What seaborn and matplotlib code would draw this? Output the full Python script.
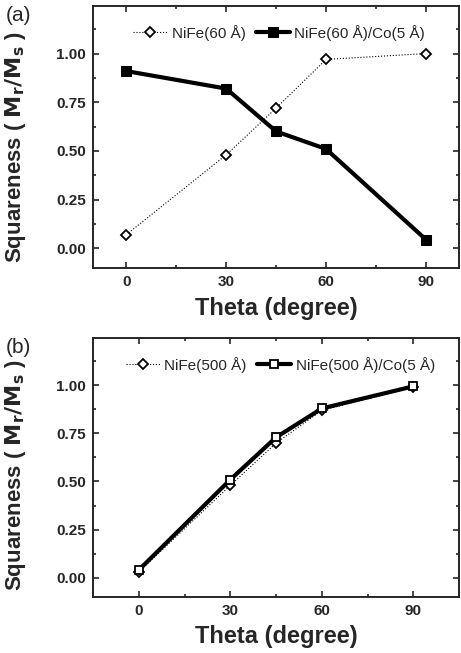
import numpy as np
import pandas as pd
import matplotlib
matplotlib.use("Agg")
import matplotlib.pyplot as plt
from matplotlib.ticker import MultipleLocator
import seaborn as sns

# Data
theta = [0, 30, 45, 60, 90]

# (a)
nife60 = [0.07, 0.48, 0.72, 0.97, 1.00]
nife60_co = [0.91, 0.82, 0.60, 0.51, 0.045]

# (b)
nife500 = [0.03, 0.48, 0.70, 0.87, 0.99]
nife500_co = [0.04, 0.51, 0.73, 0.88, 0.995]

labels_a = ["NiFe(60 Å)", "NiFe(60 Å)/Co(5 Å)"]
labels_b = ["NiFe(500 Å)", "NiFe(500 Å)/Co(5 Å)"]

sns.set_style("ticks")
plt.rcParams['font.family'] = ['Liberation Sans', 'DejaVu Sans']

fig = plt.figure(figsize=(4.61, 6.53), dpi=100)
ax_a = fig.add_axes([0.202, 0.590, 0.794, 0.401])
ax_b = fig.add_axes([0.202, 0.086, 0.794, 0.396])


def style_axes(ax, xlim, tag, ylab_y, leg_x, xlab_y):
    ax.set_xlim(*xlim)
    ax.set_ylim(-0.1, 1.245)
    ax.set_xticks([0, 30, 60, 90])
    ax.xaxis.set_minor_locator(MultipleLocator(15))
    ax.set_yticks([0, 0.25, 0.5, 0.75, 1.0])
    ax.set_yticklabels(["0.00", "0.25", "0.50", "0.75", "1.00"])
    ax.yaxis.set_minor_locator(MultipleLocator(0.125))
    ax.tick_params(which="both", direction="in", top=True, right=True, width=1.2)
    ax.tick_params(which="major", length=4)
    ax.tick_params(which="minor", length=2.5)
    ax.tick_params(axis="both", pad=5)
    for lab in ax.get_xticklabels() + ax.get_yticklabels():
        lab.set_fontweight("bold")
        lab.set_fontsize(11)
    for sp in ax.spines.values():
        sp.set_linewidth(1.4)
    ax.set_xlabel("Theta (degree)", fontsize=17, fontweight="bold")
    ax.set_ylabel(r"Squareness ( $\mathbf{M_r/M_s}$ )", fontsize=16, fontweight="bold")
    ax.xaxis.set_label_coords(0.5, xlab_y)
    ax.yaxis.set_label_coords(-0.178, ylab_y)
    ax.text(-0.205, 0.965, tag, transform=ax.transAxes, fontsize=15, ha="center", va="center")
    ax.legend(loc="center left", bbox_to_anchor=(leg_x, 0.898), ncol=2, frameon=False,
              fontsize=11, handlelength=2.2, columnspacing=0.7, handletextpad=0.3,
              borderpad=0, borderaxespad=0)


# panel (a)
sns.lineplot(x=theta, y=nife60, ax=ax_a, color="black", lw=0.8, linestyle=":",
             marker="D", markersize=5, markerfacecolor="white", markeredgecolor="black",
             markeredgewidth=1.3, label=labels_a[0])
sns.lineplot(x=theta, y=nife60_co, ax=ax_a, color="black", lw=3,
             marker="s", markersize=6.5, markerfacecolor="black", markeredgecolor="black",
             label=labels_a[1])
style_axes(ax_a, (-10, 100), "(a)", 0.46, 0.11, -0.113)

# panel (b)
sns.lineplot(x=theta, y=nife500, ax=ax_b, color="black", lw=0.8, linestyle=":",
             marker="D", markersize=5, markerfacecolor="white", markeredgecolor="black",
             markeredgewidth=1.3, label=labels_b[0])
sns.lineplot(x=theta, y=nife500_co, ax=ax_b, color="black", lw=3,
             marker="s", markersize=6, markerfacecolor="white", markeredgecolor="black",
             markeredgewidth=1.3, label=labels_b[1])
style_axes(ax_b, (-15, 105), "(b)", 0.47, 0.09, -0.11)

fig.savefig("out.png", dpi=100)
